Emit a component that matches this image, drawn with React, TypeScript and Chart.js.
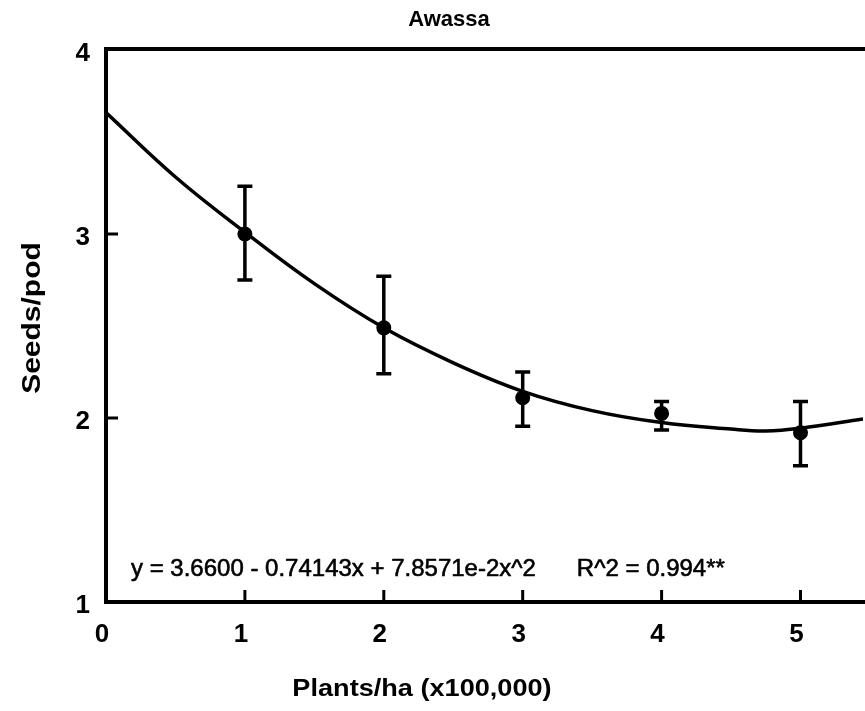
import React, { useEffect, useRef } from "react";
import { Chart, registerables } from "chart.js";

Chart.register(...registerables);

// Plant density (x100,000 plants/ha) and observed seeds per pod with error bar limits
const densities = [1, 2, 3, 4, 5];
const seedsPerPod = [3.0, 2.49, 2.11, 2.025, 1.92];
const seedsUpper = [3.26, 2.77, 2.25, 2.09, 2.09];
const seedsLower = [2.75, 2.24, 1.955, 1.935, 1.74];

// Fitted quadratic response traced across the density range
const fitDensity = [0, 0.5, 1, 1.5, 2, 2.5, 3, 3.5, 4, 4.5, 4.75, 5, 5.45];
const fitSeeds = [3.66, 3.31, 3.01, 2.73, 2.49, 2.3, 2.145, 2.04, 1.975, 1.94, 1.93, 1.945, 1.995];

const xTickValues = [0, 1, 2, 3, 4, 5];
const yTickValues = [1, 2, 3, 4];
const xRange = [0, 5.45];
const yRange = [1, 4];

const chartTitle = "Awassa";
const xTitle = "Plants/ha (x100,000)";
const yTitle = "Seeds/pod";
const equationText = "y = 3.6600 - 0.74143x + 7.8571e-2x^2";
const rSquaredText = "R^2 = 0.994**";
// anchor of the regression annotation, in data units
const equationAt = { x: 0.18, y: 1.18 };
const rSquaredAt = { x: 3.39, y: 1.18 };

const FONT = '"Liberation Sans", Arial, Helvetica, sans-serif';

function drawText(
  ctx: CanvasRenderingContext2D,
  text: string,
  x: number,
  y: number,
  font: string,
  opts: { sx?: number; rotate?: number; align?: CanvasTextAlign; stroke?: number } = {}
) {
  ctx.save();
  ctx.translate(x, y);
  if (opts.rotate) ctx.rotate(opts.rotate);
  ctx.scale(opts.sx ?? 1, 1);
  ctx.font = font;
  ctx.fillStyle = "#000";
  ctx.strokeStyle = "#000";
  ctx.textAlign = opts.align ?? "center";
  ctx.textBaseline = "middle";
  ctx.fillText(text, 0, 0);
  if (opts.stroke) {
    ctx.lineWidth = opts.stroke;
    ctx.lineJoin = "round";
    ctx.strokeText(text, 0, 0);
  }
  ctx.restore();
}

const decorPlugin = {
  id: "decor",
  afterDatasetsDraw(chart: any) {
    const { ctx, chartArea: a, scales } = chart;
    const xs = scales.x;
    const ys = scales.y;
    ctx.save();
    ctx.strokeStyle = "#000";
    ctx.fillStyle = "#000";

    // error bars
    ctx.lineWidth = 3.5;
    ctx.lineCap = "butt";
    densities.forEach((d, i) => {
      const px = xs.getPixelForValue(d);
      const top = ys.getPixelForValue(seedsUpper[i]);
      const bot = ys.getPixelForValue(seedsLower[i]);
      ctx.beginPath();
      ctx.moveTo(px, top);
      ctx.lineTo(px, bot);
      ctx.moveTo(px - 7.5, top);
      ctx.lineTo(px + 7.5, top);
      ctx.moveTo(px - 7.5, bot);
      ctx.lineTo(px + 7.5, bot);
      ctx.stroke();
    });

    // plot frame: top, left and bottom edges
    ctx.lineWidth = 4;
    ctx.lineCap = "square";
    ctx.beginPath();
    ctx.moveTo(a.right, a.top - 1);
    ctx.lineTo(a.left, a.top - 1);
    ctx.lineTo(a.left, a.bottom);
    ctx.lineTo(a.right, a.bottom);
    ctx.stroke();

    // inward tick marks
    ctx.lineWidth = 3;
    ctx.lineCap = "butt";
    xTickValues.forEach((v) => {
      if (v === xRange[0]) return;
      const px = xs.getPixelForValue(v);
      ctx.beginPath();
      ctx.moveTo(px, a.bottom);
      ctx.lineTo(px, a.bottom - 12);
      ctx.stroke();
    });
    yTickValues.forEach((v) => {
      if (v === yRange[0] || v === yRange[1]) return;
      const py = ys.getPixelForValue(v);
      ctx.beginPath();
      ctx.moveTo(a.left, py);
      ctx.lineTo(a.left + 12, py);
      ctx.stroke();
    });

    // titles
    drawText(ctx, chartTitle, 449, 20, `bold 22px ${FONT}`);
    drawText(ctx, xTitle, 422, 689, `bold 24px ${FONT}`, { sx: 1.13 });
    drawText(ctx, yTitle, 33, 318, `bold 25px ${FONT}`, { sx: 1.2, rotate: -Math.PI / 2 });

    // regression annotation
    drawText(
      ctx,
      equationText,
      xs.getPixelForValue(equationAt.x),
      ys.getPixelForValue(equationAt.y),
      `24px ${FONT}`,
      { align: "left", stroke: 0.6 }
    );
    drawText(
      ctx,
      rSquaredText,
      xs.getPixelForValue(rSquaredAt.x),
      ys.getPixelForValue(rSquaredAt.y),
      `24px ${FONT}`,
      { align: "left", stroke: 0.6 }
    );
    ctx.restore();
  },
};

export default function App() {
  const ref = useRef<HTMLCanvasElement>(null);

  useEffect(() => {
    const canvas = ref.current;
    if (!canvas) return;
    const tickFont = { family: FONT, size: 26, weight: "bold" as const };
    const chart = new Chart(canvas, {
      type: "scatter",
      data: {
        datasets: [
          {
            label: "fit",
            data: fitDensity.map((x, i) => ({ x, y: fitSeeds[i] })),
            showLine: true,
            borderColor: "#000",
            borderWidth: 3.5,
            pointRadius: 0,
            tension: 0.4,
            fill: false,
          },
          {
            label: "observed",
            data: densities.map((x, i) => ({ x, y: seedsPerPod[i] })),
            showLine: false,
            pointRadius: 7.5,
            pointBackgroundColor: "#000",
            pointBorderWidth: 0,
            borderColor: "#000",
          },
        ],
      },
      options: {
        animation: false,
        responsive: false,
        events: [],
        layout: { autoPadding: false, padding: { top: 50, right: 2, left: 0, bottom: 0 } },
        plugins: {
          legend: { display: false },
          tooltip: { enabled: false },
          title: { display: false },
        },
        scales: {
          x: {
            type: "linear",
            min: xRange[0],
            max: xRange[1],
            afterBuildTicks: (s: any) => {
              s.ticks = xTickValues.map((value) => ({ value }));
            },
            afterFit: (s: any) => {
              s.height = 109;
              s.paddingLeft = 0;
              s.paddingRight = 0;
            },
            grid: { display: false, drawTicks: false },
            border: { display: false },
            ticks: {
              color: "#000",
              font: tickFont,
              padding: 17,
              labelOffset: -4,
              maxRotation: 0,
              autoSkip: false,
              callback: (v: any) => String(v),
            },
          },
          y: {
            type: "linear",
            min: yRange[0],
            max: yRange[1],
            afterBuildTicks: (s: any) => {
              s.ticks = yTickValues.map((value) => ({ value }));
            },
            afterFit: (s: any) => {
              s.width = 106;
              s.paddingTop = 0;
              s.paddingBottom = 0;
            },
            grid: { display: false, drawTicks: false },
            border: { display: false },
            ticks: {
              color: "#000",
              font: tickFont,
              padding: 16,
              labelOffset: 4,
              autoSkip: false,
              callback: (v: any) => String(v),
            },
          },
        },
      },
      plugins: [decorPlugin],
    });
    return () => chart.destroy();
  }, []);

  return (
    <div
      style={{
        position: "fixed",
        left: 0,
        top: 0,
        width: 865,
        height: 711,
        background: "#fff",
      }}
    >
      <canvas ref={ref} width={865} height={711} style={{ display: "block" }} />
    </div>
  );
}
